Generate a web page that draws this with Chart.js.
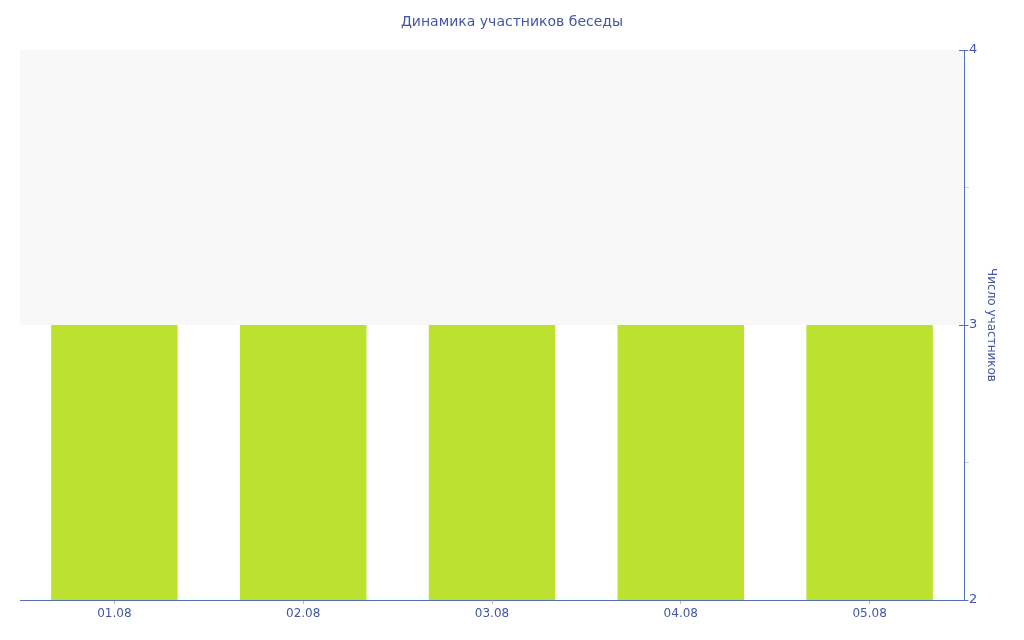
<!DOCTYPE html>
<html>
<head>
<meta charset="utf-8">
<script src="https://cdn.jsdelivr.net/npm/chart.js@4/dist/chart.umd.min.js"></script>
<style>
  html, body { margin: 0; padding: 0; background: #ffffff; }
  #wrap { width: 1024px; height: 640px; }
</style>
</head>
<body>
<div id="wrap"><canvas id="chart" width="1024" height="640"></canvas></div>
<script>
// Chart content
const chartTitle = 'Динамика участников беседы';
const yAxisTitle = 'Число участников';
const categories = ['01.08', '02.08', '03.08', '04.08', '05.08'];
const participants = [3, 3, 3, 3, 3];
const yRange = [2, 4];
const yMajorTicks = [2, 3, 4];
// Shaded horizontal bands (value ranges) behind the bars
const bandFrom = [3];
const bandTo = [4];

const TEXT = '#4256a3';
const AXIS = '#5470b6';
const FONT = 'DejaVu Sans';

const bandPlugin = {
  id: 'bands',
  beforeDatasetsDraw(chart) {
    const { ctx, chartArea, scales } = chart;
    const y = scales.y;
    ctx.save();
    ctx.fillStyle = '#f8f8f8';
    for (let i = 0; i < bandFrom.length; i++) {
      const top = y.getPixelForValue(bandTo[i]);
      const bottom = y.getPixelForValue(bandFrom[i]);
      ctx.fillRect(chartArea.left, top, chartArea.right - chartArea.left, bottom - top);
    }
    ctx.restore();
  }
};

// Short dark tick marks crossing the y axis line at the whole-number values
const majorTickPlugin = {
  id: 'majorTicks',
  afterDraw(chart) {
    const { ctx, scales } = chart;
    const y = scales.y;
    ctx.save();
    ctx.strokeStyle = AXIS;
    ctx.lineWidth = 1;
    yMajorTicks.forEach(v => {
      const py = Math.round(y.getPixelForValue(v)) + 0.5;
      ctx.beginPath();
      ctx.moveTo(y.left - 5, py);
      ctx.lineTo(y.left + 4, py);
      ctx.stroke();
    });
    ctx.restore();
  }
};

new Chart(document.getElementById('chart'), {
  type: 'bar',
  data: {
    labels: categories,
    datasets: [{
      data: participants,
      yAxisID: 'y',
      backgroundColor: '#bde12f',
      borderWidth: 0,
      categoryPercentage: 1,
      barPercentage: 0.67
    }]
  },
  options: {
    responsive: false,
    animation: false,
    layout: { padding: 0 },
    plugins: {
      legend: { display: false },
      tooltip: { enabled: false },
      title: {
        display: true,
        text: chartTitle,
        color: TEXT,
        font: { family: FONT, size: 14, weight: 'normal', lineHeight: 1.2 },
        padding: { top: 14, bottom: 19.2 }
      }
    },
    scales: {
      x: {
        grid: { display: true, offset: false, drawOnChartArea: false, drawTicks: true, tickLength: 4, color: '#bbbbbb' },
        border: { display: true, color: AXIS, width: 1 },
        ticks: { color: TEXT, font: { family: FONT, size: 12 }, padding: 3, maxRotation: 0 },
        afterFit(scale) { scale.height = 40; }
      },
      // empty left margin strip so the plot starts 20px in while the title stays centred on the canvas
      gutter: {
        type: 'linear',
        position: 'left',
        display: true,
        grid: { display: false },
        border: { display: false },
        ticks: { display: false },
        afterFit(scale) { scale.width = 20; }
      },
      y: {
        position: 'right',
        min: yRange[0],
        max: yRange[1],
        grid: { display: true, drawOnChartArea: false, drawTicks: true, tickLength: 5, color: '#cccccc' },
        border: { display: true, color: AXIS, width: 1 },
        ticks: {
          stepSize: 0.5,
          color: TEXT,
          font: { family: FONT, size: 13 },
          padding: 0,
          callback: v => (Number.isInteger(v) ? String(v) : '')
        },
        title: {
          display: true,
          text: yAxisTitle,
          color: TEXT,
          font: { family: FONT, size: 12 },
          padding: { top: 26, bottom: 0 }
        },
        afterFit(scale) { scale.width = 60; }
      }
    }
  },
  plugins: [bandPlugin, majorTickPlugin]
});
</script>
</body>
</html>
